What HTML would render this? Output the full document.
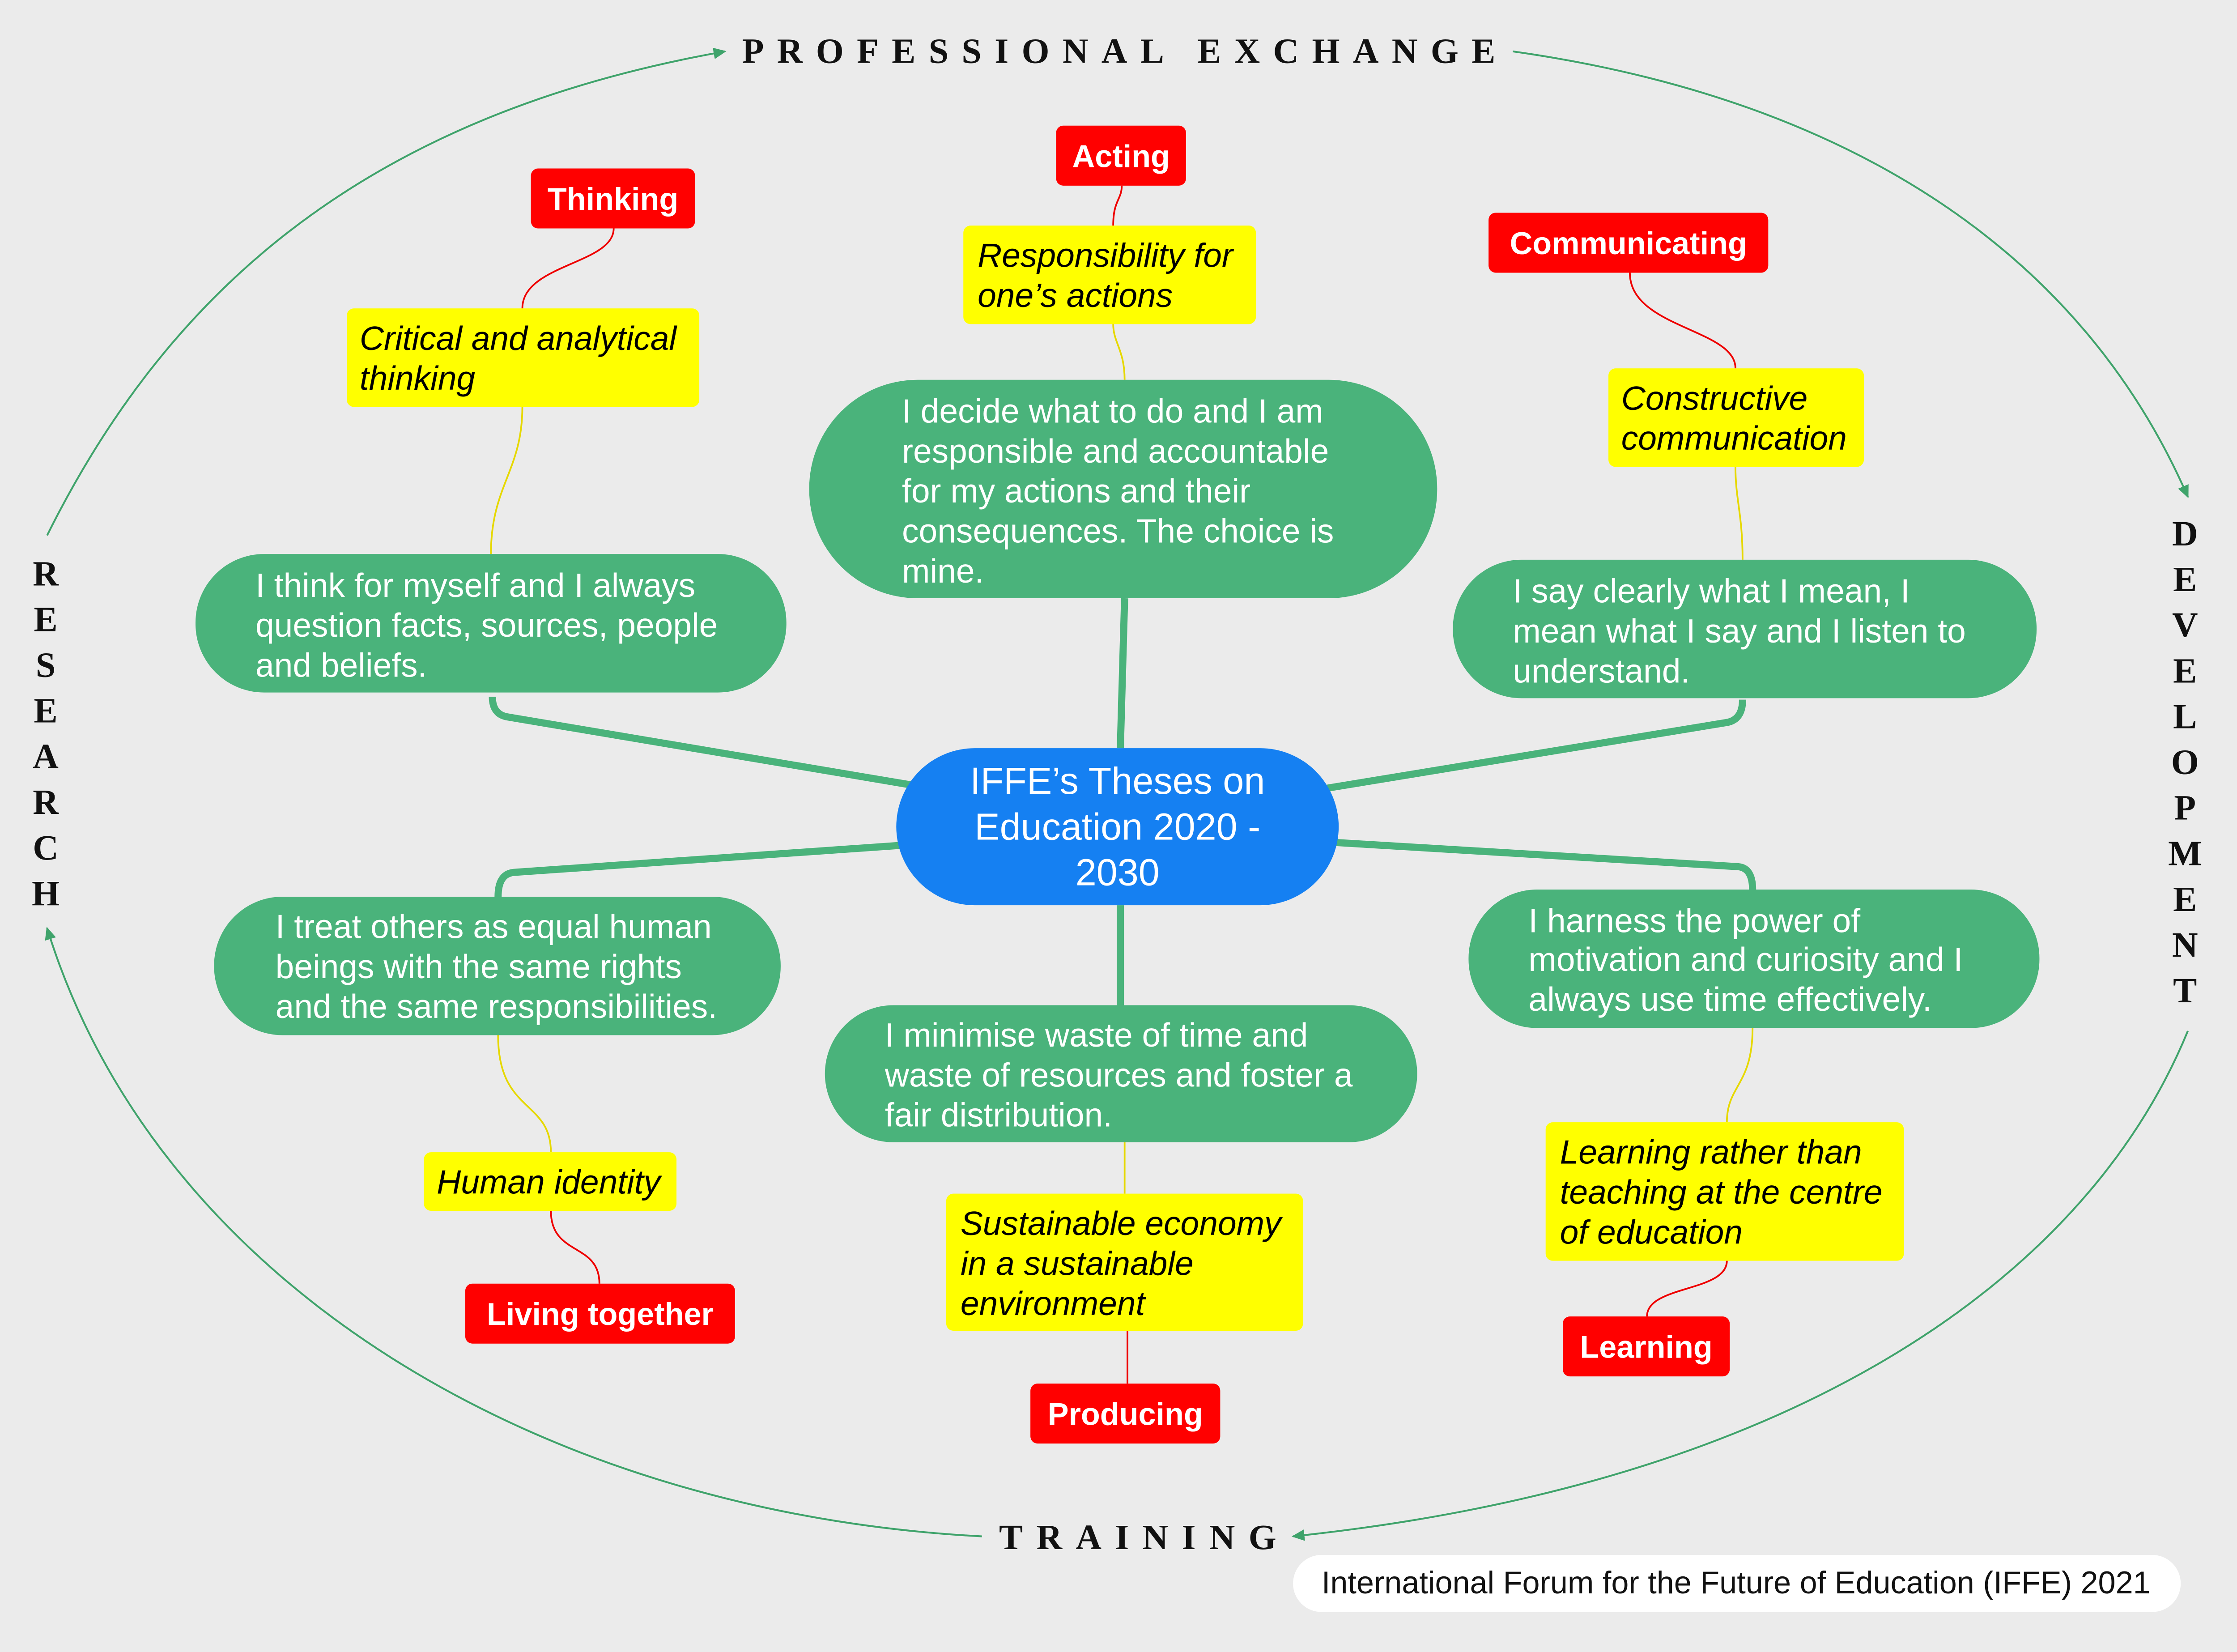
<!DOCTYPE html>
<html><head><meta charset="utf-8"><style>
html,body{margin:0;padding:0;background:#ebebeb;}
svg{display:block}
.g{font-family:"Liberation Sans",sans-serif;font-size:23.5px;fill:#fff}
.y{font-family:"Liberation Sans",sans-serif;font-size:23.5px;font-style:italic;fill:#000}
.r{font-family:"Liberation Sans",sans-serif;font-size:22px;font-weight:bold;fill:#fff}
.h{font-family:"Liberation Serif",serif;font-size:25px;font-weight:900;fill:#111}
</style></head><body>
<svg width="5072" height="3692" viewBox="0 0 1590 1157" preserveAspectRatio="none" xmlns="http://www.w3.org/2000/svg">
<defs><marker id="a" markerWidth="10" markerHeight="10" refX="8" refY="5" orient="auto" markerUnits="userSpaceOnUse"><path d="M0,1 L9,5 L0,9 z" fill="#3fa36b"/></marker></defs>
<rect width="1590" height="1157" fill="#ebebeb"/>
<g fill="none" stroke="#3fa36b" stroke-width="1.3">
<path d="M33,375 C120,200 260,80 508,36" marker-end="url(#a)"/>
<path d="M1060,36 C1300,70 1460,180 1533,348" marker-end="url(#a)"/>
<path d="M1533,722 C1460,900 1250,1040 906,1076" marker-end="url(#a)"/>
<path d="M688,1076 C380,1060 110,900 33,650" marker-end="url(#a)"/>
</g>
<g fill="none" stroke="#4ab37b" stroke-width="5">
<path d="M640,550 L355,502 Q345,500 345,488"/>
<path d="M785,524 L788,419"/>
<path d="M930,552 L1210,506 Q1221,504 1221,490"/>
<path d="M632,592 L360,611 Q349,612 349,628"/>
<path d="M785,634 L785,704"/>
<path d="M935,590 L1218,607 Q1228,608 1228,623"/>
</g>
<g fill="none" stroke="#e6d800" stroke-width="1.2">
<path d="M344,388 C344,340 366,330 366,285"/>
<path d="M788,266 C788,245 780,240 780,227"/>
<path d="M1221,392 C1221,360 1216,350 1216,327"/>
<path d="M349,725 C349,780 386,770 386,807"/>
<path d="M788,800 L788,836"/>
<path d="M1228,720 C1228,760 1210,760 1210,786"/>
</g>
<g fill="none" stroke="#e00" stroke-width="1.2">
<path d="M366,216 C366,185 430,185 430,160"/>
<path d="M780,158 C780,140 786,140 786,130"/>
<path d="M1216,258 C1216,230 1142,230 1142,191"/>
<path d="M386,848 C386,880 420,870 420,899"/>
<path d="M790,932 L790,969"/>
<path d="M1210,883 C1210,905 1154,900 1154,922"/>
</g>
<g fill="#4ab37b">
<rect x="137" y="388" width="414" height="97" rx="48"/>
<rect x="567" y="266" width="440" height="153" rx="76"/>
<rect x="1018" y="392" width="409" height="97" rx="48"/>
<rect x="150" y="628" width="397" height="97" rx="48"/>
<rect x="578" y="704" width="415" height="96" rx="48"/>
<rect x="1029" y="623" width="400" height="97" rx="48"/>
</g>
<rect x="628" y="524" width="310" height="110" rx="55" fill="#1580f2"/>
<g class="g">
<text x="179" y="418">I think for myself and I always</text>
<text x="179" y="446">question facts, sources, people</text>
<text x="179" y="474">and beliefs.</text>
<text x="632" y="296">I decide what to do and I am</text>
<text x="632" y="324">responsible and accountable</text>
<text x="632" y="352">for my actions and their</text>
<text x="632" y="380">consequences. The choice is</text>
<text x="632" y="408">mine.</text>
<text x="1060" y="422">I say clearly what I mean, I</text>
<text x="1060" y="450">mean what I say and I listen to</text>
<text x="1060" y="478">understand.</text>
<text x="193" y="657">I treat others as equal human</text>
<text x="193" y="685">beings with the same rights</text>
<text x="193" y="713">and the same responsibilities.</text>
<text x="620" y="733">I minimise waste of time and</text>
<text x="620" y="761">waste of resources and foster a</text>
<text x="620" y="789">fair distribution.</text>
<text x="1071" y="653">I harness the power of</text>
<text x="1071" y="680">motivation and curiosity and I</text>
<text x="1071" y="708">always use time effectively.</text>
</g>
<g font-family="Liberation Sans,sans-serif" font-size="26.5" fill="#fff" text-anchor="middle">
<text x="783" y="556">IFFE’s Theses on</text>
<text x="783" y="588">Education 2020 -</text>
<text x="783" y="620">2030</text>
</g>
<g fill="#ffff00">
<rect x="243" y="216" width="247" height="69" rx="5"/>
<rect x="675" y="158" width="205" height="69" rx="5"/>
<rect x="1127" y="258" width="179" height="69" rx="5"/>
<rect x="297" y="807" width="177" height="41" rx="5"/>
<rect x="663" y="836" width="250" height="96" rx="5"/>
<rect x="1083" y="786" width="251" height="97" rx="5"/>
</g>
<g class="y">
<text x="252" y="245">Critical and analytical</text>
<text x="252" y="273">thinking</text>
<text x="685" y="187">Responsibility for</text>
<text x="685" y="215">one’s actions</text>
<text x="1136" y="287">Constructive</text>
<text x="1136" y="315">communication</text>
<text x="306" y="836">Human identity</text>
<text x="673" y="865">Sustainable economy</text>
<text x="673" y="893">in a sustainable</text>
<text x="673" y="921">environment</text>
<text x="1093" y="815">Learning rather than</text>
<text x="1093" y="843">teaching at the centre</text>
<text x="1093" y="871">of education</text>
</g>
<g fill="#f00">
<rect x="372" y="118" width="115" height="42" rx="5"/>
<rect x="740" y="88" width="91" height="42" rx="5"/>
<rect x="1043" y="149" width="196" height="42" rx="5"/>
<rect x="326" y="899" width="189" height="42" rx="5"/>
<rect x="722" y="969" width="133" height="42" rx="5"/>
<rect x="1095" y="922" width="117" height="42" rx="5"/>
</g>
<g class="r" text-anchor="middle">
<text x="429.5" y="147">Thinking</text>
<text x="785.5" y="117">Acting</text>
<text x="1141" y="178">Communicating</text>
<text x="420.5" y="928">Living together</text>
<text x="788.5" y="998">Producing</text>
<text x="1153.5" y="951">Learning</text>
</g>
<text class="h" x="520" y="44" letter-spacing="9.2">PROFESSIONAL EXCHANGE</text>
<text class="h" x="700" y="1085" letter-spacing="9.5">TRAINING</text>
<g class="h" text-anchor="middle">
<text x="32" y="410">R</text><text x="32" y="442">E</text><text x="32" y="474">S</text><text x="32" y="506">E</text><text x="32" y="538">A</text><text x="32" y="570">R</text><text x="32" y="602">C</text><text x="32" y="634">H</text>
<text x="1531" y="382">D</text><text x="1531" y="414">E</text><text x="1531" y="446">V</text><text x="1531" y="478">E</text><text x="1531" y="510">L</text><text x="1531" y="542">O</text><text x="1531" y="574">P</text><text x="1531" y="606">M</text><text x="1531" y="638">E</text><text x="1531" y="670">N</text><text x="1531" y="702">T</text>
</g>
<rect x="906" y="1089" width="622" height="40" rx="20" fill="#fff"/>
<text x="926" y="1116" font-family="Liberation Sans,sans-serif" font-size="22" fill="#111">International Forum for the Future of Education (IFFE) 2021</text>
</svg>
</body></html>
